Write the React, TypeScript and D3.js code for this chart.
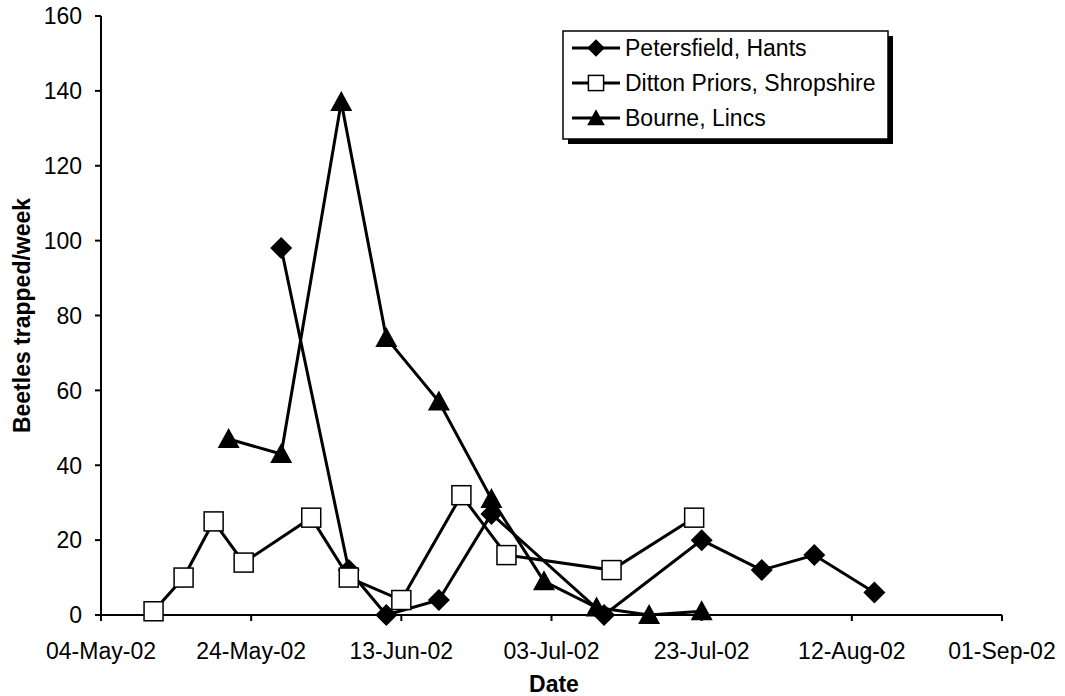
import React from 'react';
import * as d3 from 'd3';

// Weekly trap catches
const petersDates = ['2002-05-28', '2002-06-06', '2002-06-11', '2002-06-18', '2002-06-25', '2002-07-10', '2002-07-23', '2002-07-31', '2002-08-07', '2002-08-15'];
const petersValues = [98, 12, 0, 4, 27, 0, 20, 12, 16, 6];

const dittonDates = ['2002-05-11', '2002-05-15', '2002-05-19', '2002-05-23', '2002-06-01', '2002-06-06', '2002-06-13', '2002-06-21', '2002-06-27', '2002-07-11', '2002-07-22'];
const dittonValues = [1, 10, 25, 14, 26, 10, 4, 32, 16, 12, 26];

const bourneDates = ['2002-05-21', '2002-05-28', '2002-06-05', '2002-06-11', '2002-06-18', '2002-06-25', '2002-07-02', '2002-07-09', '2002-07-16', '2002-07-23'];
const bourneValues = [47, 43, 137, 74, 57, 31, 9, 2, 0, 1];

const seriesNames = ['Petersfield, Hants', 'Ditton Priors, Shropshire', 'Bourne, Lincs'];
const xTickDates = ['2002-05-04', '2002-05-24', '2002-06-13', '2002-07-03', '2002-07-23', '2002-08-12', '2002-09-01'];
const yTicks = [0, 20, 40, 60, 80, 100, 120, 140, 160];

const width = 1065;
const height = 696;
const margin = { top: 16, right: 63, bottom: 81, left: 101 };
const font = '"Liberation Sans", Arial, sans-serif';

const parse = d3.utcParse('%Y-%m-%d');
const fmt = d3.utcFormat('%d-%b-%y');

const x = d3
  .scaleUtc()
  .domain([parse('2002-05-04') as Date, parse('2002-09-01') as Date])
  .range([margin.left, width - margin.right]);
const y = d3.scaleLinear().domain([0, 160]).range([height - margin.bottom, margin.top]);

type Pt = { date: Date; value: number };
const toPoints = (dates: string[], values: number[]): Pt[] =>
  dates.map((d, i) => ({ date: parse(d) as Date, value: values[i] }));

const series = [
  { name: seriesNames[0], points: toPoints(petersDates, petersValues), marker: 'diamond' },
  { name: seriesNames[1], points: toPoints(dittonDates, dittonValues), marker: 'square' },
  { name: seriesNames[2], points: toPoints(bourneDates, bourneValues), marker: 'triangle' },
];

const line = d3
  .line<Pt>()
  .x((d) => x(d.date))
  .y((d) => y(d.value));

const Marker = ({ kind, cx, cy, s = 1 }: { kind: string; cx: number; cy: number; s?: number }) => {
  if (kind === 'square') {
    const h = 9.5 * s;
    return <rect x={cx - h} y={cy - h} width={2 * h} height={2 * h} fill="#fff" stroke="#000" strokeWidth={1.5} />;
  }
  if (kind === 'diamond') {
    const r = 11 * s;
    return <path d={`M${cx},${cy - r}L${cx + r},${cy}L${cx},${cy + r}L${cx - r},${cy}Z`} fill="#000" />;
  }
  return (
    <path
      d={`M${cx},${cy - 11 * s}L${cx + 11 * s},${cy + 9 * s}L${cx - 11 * s},${cy + 9 * s}Z`}
      fill="#000"
    />
  );
};

const App = () => {
  const x0 = margin.left;
  const y0 = height - margin.bottom;
  const legend = { x: 563, y: 31, w: 325, h: 108 };

  return (
    <svg
      width={width}
      height={height}
      style={{ position: 'absolute', left: 0, top: 0, background: '#fff' }}
      fontFamily={font}
    >
      {/* y axis */}
      <line x1={x0} x2={x0} y1={y(160)} y2={y0} stroke="#000" strokeWidth={2} />
      {yTicks.map((t) => (
        <g key={t}>
          <line x1={x0 - 6} x2={x0} y1={y(t)} y2={y(t)} stroke="#000" strokeWidth={2} />
          <text x={x0 - 19} y={y(t)} dy="0.36em" textAnchor="end" fontSize={23}>
            {t}
          </text>
        </g>
      ))}

      {/* x axis */}
      <line x1={x0} x2={width - margin.right} y1={y0} y2={y0} stroke="#000" strokeWidth={2} />
      {xTickDates.map((s) => {
        const d = parse(s) as Date;
        return (
          <g key={s}>
            <line x1={x(d)} x2={x(d)} y1={y0} y2={y0 + 6} stroke="#000" strokeWidth={2} />
            <text x={x(d)} y={y0 + 44} textAnchor="middle" fontSize={23}>
              {fmt(d)}
            </text>
          </g>
        );
      })}

      <text x={554} y={692} textAnchor="middle" fontSize={23} fontWeight="bold">
        Date
      </text>
      <text
        transform={`translate(22, ${(margin.top + y0) / 2}) rotate(-90)`}
        textAnchor="middle"
        dy="0.36em"
        fontSize={23}
        fontWeight="bold"
      >
        Beetles trapped/week
      </text>

      {/* series */}
      {series.map((s) => (
        <g key={s.name}>
          <path d={line(s.points) || ''} fill="none" stroke="#000" strokeWidth={3} />
          {s.points.map((p, i) => (
            <Marker key={i} kind={s.marker} cx={x(p.date)} cy={y(p.value)} />
          ))}
        </g>
      ))}

      {/* legend */}
      <rect x={legend.x + 5} y={legend.y + 5} width={legend.w} height={legend.h} fill="#000" />
      <rect x={legend.x} y={legend.y} width={legend.w} height={legend.h} fill="#fff" stroke="#000" strokeWidth={1.5} />
      {series.map((s, i) => {
        const ly = legend.y + 17 + i * 35;
        return (
          <g key={s.name}>
            <line x1={legend.x + 9} x2={legend.x + 57} y1={ly} y2={ly} stroke="#000" strokeWidth={3} />
            <Marker kind={s.marker} cx={legend.x + 33} cy={ly} s={0.8} />
            <text x={legend.x + 62} y={ly} dy="0.36em" fontSize={23}>
              {s.name}
            </text>
          </g>
        );
      })}
    </svg>
  );
};

export default App;
